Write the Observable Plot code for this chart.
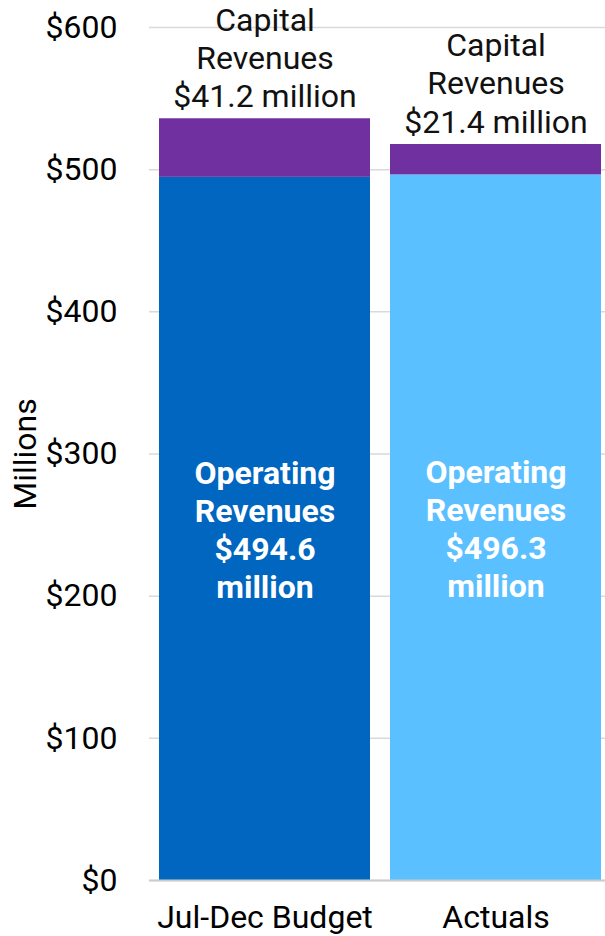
<!DOCTYPE html>
<html>
<head>
<meta charset="utf-8">
<script src="https://cdn.jsdelivr.net/npm/d3@7"></script>
<script src="https://cdn.jsdelivr.net/npm/@observablehq/plot@0.6"></script>
<style>
  html, body { margin: 0; padding: 0; background: #fff; }
  #chart svg { display: block; }
</style>
</head>
<body>
<div id="chart"></div>
<script>
const categories = ["Jul-Dec Budget", "Actuals"];
const operating = [494.6, 496.3];
const capital = [41.2, 21.4];
const yTicks = [0, 100, 200, 300, 400, 500, 600];
const yLabel = "Millions";

const darkBlue = "#0066BF";
const lightBlue = "#5BC0FF";
const purple = "#7030A0";

const rows = [
  ...categories.map((c, i) => ({cat: c, part: "Operating", value: operating[i], idx: i})),
  ...categories.map((c, i) => ({cat: c, part: "Capital", value: capital[i], idx: i}))
];
const capLabels = categories.map((c, i) => ({cat: c, total: operating[i] + capital[i], text: `Capital\nRevenues\n$${capital[i]} million`}));
const opLabels = categories.map((c, i) => ({cat: c, mid: operating[i] / 2, text: `Operating\nRevenues\n$${operating[i]}\nmillion`}));

const fs = 32;

const chart = Plot.plot({
  width: 605,
  height: 936,
  marginTop: 27,
  marginBottom: 56,
  marginLeft: 149,
  marginRight: 0,
  style: {fontFamily: "Roboto, sans-serif", fontSize: fs + "px", color: "#000", background: "#fff"},
  x: {type: "band", domain: categories, range: [159, 601], paddingInner: 20 / 231, paddingOuter: 0},
  y: {domain: [0, 600]},
  marks: [
    Plot.ruleY(yTicks, {stroke: "#d9d9d9", strokeWidth: 1.5}),
    Plot.barY(rows, Plot.stackY({
      x: "cat",
      y: "value",
      fill: d => d.part === "Capital" ? purple : (d.idx === 0 ? darkBlue : lightBlue)
    })),
    Plot.ruleY([0], {stroke: "#cccccc", strokeWidth: 2}),
    Plot.axisY({ticks: yTicks, tickFormat: d => "$" + d, tickSize: 0, tickPadding: 32, label: null, fontSize: fs, fill: "#000"}),
    Plot.axisX({tickSize: 0, tickPadding: 25, label: null, fontSize: fs, fill: "#000"}),
    Plot.text([yLabel], {frameAnchor: "left", textAnchor: "middle", rotate: -90, dx: -124, fontSize: fs, fill: "#000"}),
    Plot.text(capLabels, {x: "cat", y: "total", text: "text", lineAnchor: "bottom", lineHeight: 1.19, dy: -12, fontSize: fs, fill: "#111"}),
    Plot.text(opLabels, {x: "cat", y: "mid", text: "text", lineAnchor: "middle", lineHeight: 1.19, fontSize: fs, fontWeight: "bold", fill: "#fff"})
  ]
});
document.getElementById("chart").appendChild(chart);
</script>
</body>
</html>
